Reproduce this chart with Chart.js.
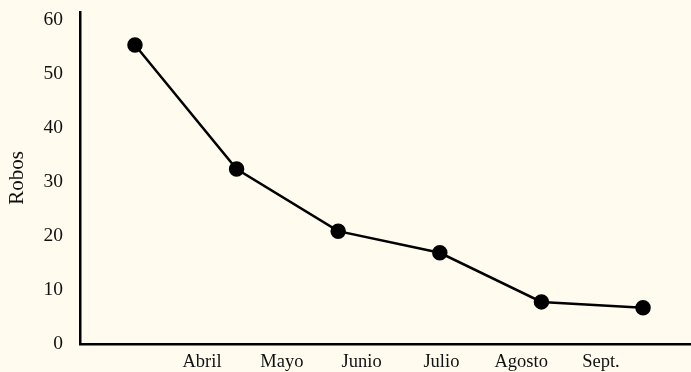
<!DOCTYPE html>
<html>
<head>
<meta charset="utf-8">
<script src="https://cdn.jsdelivr.net/npm/chart.js@4"></script>
<style>
  html, body { margin: 0; padding: 0; background: #fffcef; }
  #wrap { width: 691px; height: 372px; position: relative; }
</style>
</head>
<body>
<div id="wrap"><canvas id="chart"></canvas></div>
<script>
// ---------- data ----------
const months = ['Abril', 'Mayo', 'Junio', 'Julio', 'Agosto', 'Sept.'];
const robos  = [55.4, 32.4, 20.9, 16.9, 7.8, 6.7];
const yTicks = [0, 10, 20, 30, 40, 50, 60];

const serif = '"Liberation Serif", "Times New Roman", serif';

const ctx = document.getElementById('chart').getContext('2d');

const chart = new Chart(ctx, {
    type: 'line',
    data: {
        datasets: [{
            label: 'Robos',
            xAxisID: 'x',
            yAxisID: 'y',
            data: robos.map((v, i) => ({ x: i, y: v })),
            borderColor: '#000',
            borderWidth: 2.5,
            pointRadius: 6.5,
            pointBackgroundColor: '#000',
            pointBorderColor: '#000',
            tension: 0,
            clip: false
        }]
    },
    options: {
        responsive: true,
        maintainAspectRatio: false,
        animation: false,
        layout: { autoPadding: false, padding: { top: 12, right: 0, left: 0, bottom: 0 } },
        plugins: {
            legend: { display: false },
            tooltip: { enabled: false }
        },
        scales: {
            // points axis (hidden)
            x: {
                type: 'linear',
                display: false,
                min: -0.541, max: 5.472
            },
            // month labels axis (offset from the points, as in the source)
            xl: {
                type: 'linear',
                position: 'bottom',
                min: -1.529, max: 6.128,
                grid: { display: false, drawTicks: false },
                border: { display: true, color: '#000', width: 2.5 },
                afterBuildTicks: s => { s.ticks = months.map((m, i) => ({ value: i })); },
                afterFit: s => { s.height = 28; s.paddingLeft = 0; s.paddingRight = 0; },
                ticks: {
                    autoSkip: false,
                    maxRotation: 0,
                    padding: 7,
                    color: '#111',
                    font: { family: serif, size: 18.5 },
                    callback: v => months[v]
                }
            },
            y: {
                type: 'linear',
                position: 'left',
                min: 0, max: 61.5,
                grid: { display: false, drawTicks: false },
                border: { display: true, color: '#000', width: 2.5 },
                afterBuildTicks: s => { s.ticks = yTicks.map(v => ({ value: v })); },
                afterFit: s => { s.width = 80; s.paddingTop = 0; s.paddingBottom = 0; },
                title: {
                    display: true,
                    text: 'Robos',
                    color: '#111',
                    font: { family: serif, size: 21 },
                    padding: { top: 5, bottom: 0 }
                },
                ticks: {
                    padding: 17,
                    color: '#111',
                    font: { family: serif, size: 19.5 }
                }
            }
        }
    }
});
</script>
</body>
</html>
